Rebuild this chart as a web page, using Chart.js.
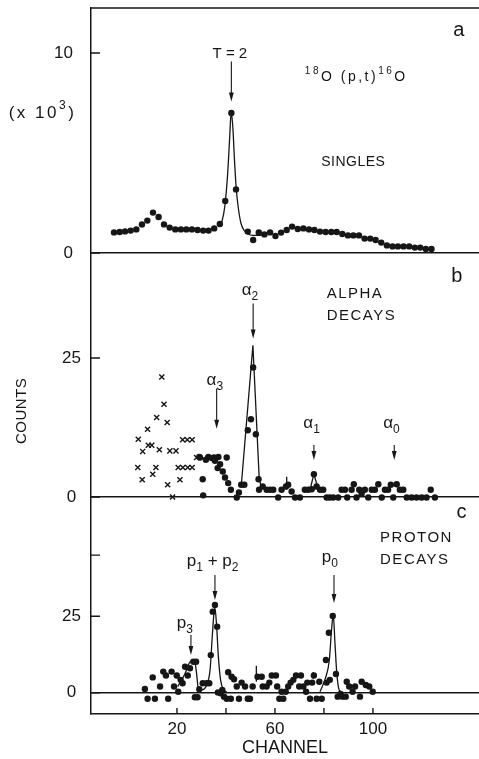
<!DOCTYPE html>
<html>
<head>
<meta charset="utf-8">
<script src="https://cdn.jsdelivr.net/npm/chart.js@4.4.1/dist/chart.umd.min.js"></script>
<style>
  body { margin: 0; background: #fff; }
  .wrap { position: relative; width: 479px; height: 759px; overflow: hidden; }
  canvas { position: absolute; left: 0; }
</style>
</head>
<body>
<div class="wrap">
  <canvas id="panelA" width="479" height="270" style="top:-4px"></canvas>
  <canvas id="panelB" width="479" height="269" style="top:241px"></canvas>
  <canvas id="panelC" width="479" height="274" style="top:485px"></canvas>
</div>
<script>
// ---- data (channel, counts) ----
// a: singles, counts in units of 10^3
const singlesChan = [-5.7, -3.4, -1.2, 1.1, 3.4, 5.7, 7.9, 10.2, 12.5, 14.7, 17.0, 19.3, 21.6, 23.8, 26.1, 28.4, 30.7, 32.9, 35.2, 37.5, 39.7, 42.2, 44.1,
  48.9, 51.1, 53.4, 55.7, 58.0, 60.2, 62.5, 64.8, 67.0, 69.3, 71.6, 73.9, 76.1, 78.4, 80.7, 83.0, 85.2, 87.5, 89.8, 92.0, 94.3, 96.6, 98.9, 101.1,
  103.4, 105.7, 108.0, 110.2, 112.5, 114.8, 117.1, 119.3, 121.6, 123.9];
const singlesK = [1.03, 1.05, 1.08, 1.12, 1.18, 1.43, 1.62, 2.02, 1.80, 1.43, 1.27, 1.18, 1.18, 1.18, 1.18, 1.15, 1.12, 1.12, 1.23, 1.45, 2.60, 7.00, 3.18,
  1.07, 0.65, 1.03, 0.93, 1.03, 0.85, 1.02, 1.15, 1.32, 1.20, 1.23, 1.18, 1.15, 1.07, 1.05, 1.05, 1.05, 0.95, 0.88, 0.88, 0.88, 0.72, 0.72, 0.65,
  0.52, 0.38, 0.33, 0.33, 0.33, 0.33, 0.27, 0.27, 0.20, 0.20];
const singlesFitChan = [36.9, 38.4, 39.6, 40.6, 41.4, 41.9, 42.2, 42.8, 43.5, 44.2, 45.1, 46.1, 47.3, 49.0, 51.0, 53.1, 55.1];
const singlesFitK = [1.3, 1.6, 2.4, 3.8, 5.5, 6.7, 7.0, 6.3, 4.6, 3.2, 2.2, 1.5, 1.15, 0.95, 0.88, 0.88, 0.9];

// b: alpha decays (crosses and dots)
const crossChan = [4.0, 4.2, 5.8, 6.0, 8.0, 8.3, 9.7, 10.1, 11.4, 11.7, 12.8, 13.8, 14.7, 16.0, 16.2, 18.2, 17.1, 19.6, 20.5, 21.2, 22.3, 22.4, 24.2, 24.4, 26.2, 26.2, 28.0];
const crossCounts = [5.3, 10.4, 3.1, 8.2, 12.2, 9.3, 9.3, 4.1, 5.3, 14.3, 8.5, 21.6, 16.7, 13.4, 2.2, 0, 8.3, 8.3, 5.3, 3.1, 10.3, 5.3, 10.3, 5.3, 10.3, 5.3, 7.1];
const alphaChan = [29.1, 29.4, 30.5, 30.7, 31.8, 32.8, 34.2, 35.1, 35.5, 36.6, 36.9, 37.6, 38.7, 39.6, 40.3, 40.9, 42.0, 43.0, 44.4, 45.3,
  46.2, 47.5, 48.9, 50.2, 51.1, 52.2, 53.3, 53.5, 55.0, 56.6, 58.0, 59.3, 61.3, 62.7, 64.5, 65.4, 66.8, 68.2, 70.2, 72.2,
  73.6, 75.0, 75.9, 77.0, 78.4, 79.7, 81.1, 82.4, 83.8, 85.8, 87.2, 88.6, 89.5, 91.3, 92.2, 93.3, 94.4, 95.4, 96.7, 98.1,
  99.5, 100.8, 102.2, 103.6, 104.9, 106.2, 107.3, 108.3, 109.7, 111.0, 112.4, 113.8, 115.8, 117.8, 119.9, 121.9, 123.6, 125.3];
const alphaCounts = [7.2, 7.1, 3.2, 0.3, 6.7, 7.2, 7.0, 7.1, 6.5, 5.2, 7.2, 5.9, 4.6, 3.5, 7.1, 2.5, 1.3, -0.8, -0.1, 0.8,
  2.2, 2.2, 12.0, 14.0, 23.3, 11.3, 3.2, 1.3, 1.9, 1.3, 1.3, 1.3, -0.1, 1.3, 1.9, 2.2, 1.0, -0.1, -0.1, 1.3,
  1.3, 1.4, 4.1, 1.9, 1.3, 1.3, -0.1, -0.1, -0.1, -0.1, 1.3, 1.3, -0.1, 1.3, 2.3, -0.1, 1.3, 0.6, 1.3, -0.1,
  1.3, 1.3, 2.3, -0.1, 1.3, 1.3, 2.2, -0.1, 2.3, 1.3, 1.3, -0.1, -0.1, -0.1, -0.1, -0.1, 1.3, -0.1];
const alpha2FitChan = [46.3, 51.0, 53.6, 54.7];
const alpha2FitCounts = [2.3, 27.3, 3.1, 1.5];
const alpha1FitChan = [74.3, 75.9, 77.7];
const alpha1FitCounts = [1.3, 4.1, 1.4];
const alphaMarkChan = [64.8, 64.8];
const alphaMarkCounts = [1.3, 3.65];

// c: proton decays
const protonChan = [6.9, 8.0, 10.1, 11.0, 13.1, 14.4, 15.5, 16.4, 17.8, 18.8, 19.9, 20.5, 21.5, 22.3, 23.3, 24.4, 25.3, 26.7, 27.8, 27.3,
  28.4, 29.1, 30.5, 32.1, 33.2, 33.8, 34.6, 35.5, 36.4, 36.7, 37.8, 38.5, 39.2, 40.3, 42.0, 40.9, 42.3, 43.3, 44.4, 45.3,
  46.4, 47.8, 48.9, 49.8, 50.9, 52.9, 54.6, 55.0, 56.6, 57.7, 58.7, 60.4, 60.9, 61.8, 62.7, 63.4, 64.4, 65.4, 66.4, 67.5,
  68.6, 69.9, 70.6, 71.6, 72.7, 73.2, 74.3, 75.2, 75.9, 77.0, 78.1, 79.1, 80.8, 81.1, 82.4, 82.0, 83.6, 84.9, 85.6,
  86.8, 87.6, 88.9, 89.3, 90.3, 91.7, 92.7, 94.7, 95.4, 97.1, 98.5, 99.9];
const protonCounts = [1.2, -2.0, 5.0, -2.0, 2.0, 6.9, 5.6, -2.0, 6.9, 2.0, 5.6, 0.3, 4.2, 3.1, 8.5, 5.6, 8.0, 10.1, 10.1, -1.5,
  -1.5, 1.1, 3.1, 3.1, 3.1, 12.3, 26.5, 28.7, 21.6, 0.1, -0.2, 0.9, -1.3, -2.0, -2.0, 6.7, 5.2, 4.4, 2.0, -2.0,
  3.3, 2.0, -2.0, -2.0, 2.0, 5.2, 5.2, 2.0, 2.0, 3.3, 5.6, 5.6, 2.0, -2.0, 0.3, -2.0, 0.3, 2.0, 3.3, 4.2,
  5.6, 2.0, 5.6, 2.0, 0.3, 3.3, -2.0, 3.3, 5.6, -2.0, 3.6, -2.0, 10.7, 3.3, 4.2, 19.6, 25.1, 6.1, -1.3,
  -0.4, -1.3, -1.3, 3.6, 2.0, 0.3, 2.0, -1.3, 3.6, 2.5, 2.0, 0.3];
const p12FitChan = [20.3, 23.3, 25.3, 27.1, 28.0, 28.7, 30.1, 32.1, 33.5, 34.4, 35.1, 35.5, 36.2, 36.9, 37.8, 38.9, 40.3];
const p12FitCounts = [2.0, 6.3, 10.1, 10.7, 6.3, 1.4, 0.9, 2.5, 7.4, 18.3, 26.0, 27.7, 21.6, 11.8, 4.2, 1.1, 0.3];
const p0FitChan = [78.4, 80.8, 82.2, 83.1, 83.8, 84.5, 85.2, 86.2, 87.2];
const p0FitCounts = [0.3, 5.2, 10.7, 20.5, 25.4, 16.2, 6.9, 0.9, 0.3];
const protonMarkChan = [52.4, 52.4, null, 75.6, 75.6];
const protonMarkCounts = [3.6, 8.8, null, 4.6, 6.8];

// axis ticks
const singlesTicks = [0, 10];
const singlesTickLabels = ['0', '10'];
const alphaTicks = [0, 25];
const alphaTickLabels = ['0', '25'];
const protonTicks = [0, 25, 45];
const protonTickLabels = ['0', '25', ''];
const chanTicks = [20, 40, 60, 80, 100];
const chanTickLabels = ['20', '', '60', '', '100'];

// ---- drawing ----
const INK = '#161616';
const FONT = "'Liberation Sans', Arial, sans-serif";
const CH_MIN = -15.1, CH_MAX = 143.3;

const pairs = (xs, ys) => xs.map((x, i) => (x === null ? { x: null, y: null } : { x, y: ys[i] }));

function drawRich(ctx, t, px, py) {
  const size = t.size || 15;
  const fontFor = k => (k === 'n' ? size : Math.round(size * 0.7)) + 'px ' + FONT;
  ctx.save();
  ctx.translate(px, py);
  if (t.rotate) ctx.rotate(t.rotate);
  ctx.letterSpacing = (t.spacing || 0) + 'px';
  ctx.textBaseline = 'middle';
  ctx.textAlign = 'left';
  const widths = t.parts.map(([s, k]) => { ctx.font = fontFor(k); return ctx.measureText(s).width; });
  const total = widths.reduce((a, b) => a + b, 0);
  let cx = t.align === 'center' ? -total / 2 : 0;
  t.parts.forEach(([s, k], i) => {
    ctx.font = fontFor(k);
    const dy = k === 'sup' ? -size * 0.42 : k === 'sub' ? size * 0.4 : 0;
    ctx.fillText(s, cx, dy);
    cx += widths[i];
  });
  ctx.restore();
}

const panelDecor = {
  id: 'panelDecor',
  afterDraw(chart, args, opts) {
    const { ctx, chartArea: area, scales: { x, y } } = chart;
    ctx.save();
    ctx.strokeStyle = INK;
    ctx.fillStyle = INK;
    ctx.lineWidth = 1.4;
    ctx.beginPath();
    if (opts.frameTop) { ctx.moveTo(area.left, area.top); ctx.lineTo(area.right, area.top); }
    (opts.yTicks || []).forEach(v => {
      const py = y.getPixelForValue(v);
      ctx.moveTo(area.left, py); ctx.lineTo(area.left + 9, py);
    });
    (opts.xTicks || []).forEach(v => {
      const px = x.getPixelForValue(v);
      ctx.moveTo(px, area.bottom); ctx.lineTo(px, area.bottom - 6);
    });
    ctx.stroke();
    // arrows pointing at the peaks
    ctx.lineWidth = 1.1;
    (opts.arrows || []).forEach(([cx, from, to]) => {
      const px = x.getPixelForValue(cx), y0 = y.getPixelForValue(from), y1 = y.getPixelForValue(to);
      ctx.beginPath(); ctx.moveTo(px, y0); ctx.lineTo(px, y1 - 6); ctx.stroke();
      ctx.beginPath(); ctx.moveTo(px, y1); ctx.lineTo(px - 2.4, y1 - 9); ctx.lineTo(px + 2.4, y1 - 9); ctx.closePath(); ctx.fill();
    });
    (opts.texts || []).forEach(t => drawRich(ctx, t, x.getPixelForValue(t.x), y.getPixelForValue(t.y)));
    ctx.restore();
  }
};

// label gap comes from an invisible tick mark so the scale does not pad the chart area
function yAxis(min, max, ticks, labels, align, gap) {
  return {
    type: 'linear', min, max,
    afterFit: s => { s.width = 91; },
    afterBuildTicks: s => { s.ticks = ticks.map(v => ({ value: v })); },
    ticks: { padding: 0, crossAlign: align, color: INK, font: { family: FONT, size: 17 }, callback: (v, i) => labels[i] },
    grid: {
      drawTicks: true, tickLength: gap, tickColor: 'rgba(0,0,0,0)', lineWidth: 1.4,
      color: c => (c.tick && c.tick.value === 0 ? INK : 'rgba(0,0,0,0)'),
    },
    border: { display: true, color: INK, width: 1.5 },
  };
}

const hiddenX = { type: 'linear', min: CH_MIN, max: CH_MAX, display: false };

const dots = (xs, ys) => ({
  data: pairs(xs, ys), showLine: false, clip: false,
  pointRadius: 3.2, pointHoverRadius: 3.2, pointBackgroundColor: INK, pointBorderWidth: 0,
});
const crosses = (xs, ys) => ({
  data: pairs(xs, ys), showLine: false, clip: false,
  pointStyle: 'crossRot', pointRadius: 3.6, pointBorderColor: INK, pointBorderWidth: 1.4,
});
const curve = (xs, ys, smooth) => ({
  data: pairs(xs, ys), showLine: true, clip: false, spanGaps: false,
  pointRadius: 0, borderColor: INK, borderWidth: 1.3,
  cubicInterpolationMode: smooth ? 'monotone' : 'default', tension: 0,
});

function makePanel(id, padding, xScale, yScale, datasets, decor) {
  return new Chart(document.getElementById(id), {
    type: 'scatter',
    data: { datasets },
    options: {
      responsive: false, animation: false, devicePixelRatio: 1,
      layout: { padding, autoPadding: false },
      scales: { x: xScale, y: yScale },
      plugins: { legend: { display: false }, tooltip: { enabled: false }, panelDecor: decor },
    },
    plugins: [panelDecor],
  });
}

// panel a
makePanel('panelA', { top: 12, bottom: 13, left: 0, right: 0 }, hiddenX,
  yAxis(0, 12.25, singlesTicks, singlesTickLabels, 'near', 18),
  [dots(singlesChan, singlesK), curve(singlesFitChan, singlesFitK, true)],
  {
    frameTop: true,
    yTicks: singlesTicks,
    arrows: [[42.2, 9.57, 7.57]],
    texts: [
      { x: 41.6, y: 9.95, size: 15, align: 'center', parts: [['T = 2', 'n']] },
      { x: 72.2, y: 8.8, size: 14, spacing: 2.5, parts: [['18', 'sup'], ['O (p,t)', 'n'], ['16', 'sup'], ['O', 'n']] },
      { x: 92.0, y: 4.55, size: 14, align: 'center', spacing: 0.5, parts: [['SINGLES', 'n']] },
      { x: 135.1, y: 11.15, size: 20, align: 'center', parts: [['a', 'n']] },
      { x: -34.9, y: 7.0, size: 17, align: 'center', spacing: 2.5, parts: [['(x 10', 'n'], ['3', 'sup'], [')', 'n']] },
    ],
  });

// panel b
makePanel('panelB', { top: 12, bottom: 13, left: 0, right: 0 }, hiddenX,
  yAxis(0, 43.9, alphaTicks, alphaTickLabels, 'center', 10),
  [crosses(crossChan, crossCounts), dots(alphaChan, alphaCounts),
   curve(alpha2FitChan, alpha2FitCounts, false), curve(alpha1FitChan, alpha1FitCounts, false),
   curve(alphaMarkChan, alphaMarkCounts, false)],
  {
    yTicks: alphaTicks,
    arrows: [[51.1, 34.8, 28.5], [36.2, 19.5, 12.3], [75.9, 9.35, 6.65], [108.7, 9.35, 6.65]],
    texts: [
      { x: 81.1, y: 36.5, size: 15, spacing: 1.5, parts: [['ALPHA', 'n']] },
      { x: 81.1, y: 32.6, size: 15, spacing: 1.5, parts: [['DECAYS', 'n']] },
      { x: 134.2, y: 39.7, size: 20, align: 'center', parts: [['b', 'n']] },
      { x: 46.4, y: 37.2, size: 17, parts: [['α', 'n'], ['2', 'sub']] },
      { x: 32.1, y: 21.0, size: 17, parts: [['α', 'n'], ['3', 'sub']] },
      { x: 71.6, y: 13.3, size: 17, parts: [['α', 'n'], ['1', 'sub']] },
      { x: 104.2, y: 13.3, size: 17, parts: [['α', 'n'], ['0', 'sub']] },
      { x: -43.3, y: 15.5, size: 15, align: 'center', spacing: 0.5, rotate: -Math.PI / 2, parts: [['COUNTS', 'n']] },
    ],
  });

// panel c
makePanel('panelC', { top: 12, bottom: 0, left: 0, right: 0 },
  {
    type: 'linear', min: CH_MIN, max: CH_MAX,
    afterFit: s => { s.height = 45; },
    afterBuildTicks: s => { s.ticks = chanTicks.map(v => ({ value: v })); },
    ticks: { autoSkip: false, maxRotation: 0, padding: 5, color: INK, font: { family: FONT, size: 17 }, callback: (v, i) => chanTickLabels[i] },
    grid: { display: false, drawTicks: false },
    border: { display: true, color: INK, width: 1.5 },
    title: { display: true, text: 'CHANNEL', color: INK, font: { family: FONT, size: 18 }, padding: { top: 0, bottom: 0 } },
  },
  yAxis(-6.97, 64.0, protonTicks, protonTickLabels, 'center', 10),
  [dots(protonChan, protonCounts), curve(p12FitChan, p12FitCounts, true), curve(p0FitChan, p0FitCounts, true),
   curve(protonMarkChan, protonMarkCounts, false)],
  {
    yTicks: protonTicks,
    xTicks: chanTicks,
    arrows: [[35.5, 38.5, 30.3], [84.1, 38.5, 29.3], [25.7, 18.9, 12.3]],
    texts: [
      { x: 102.9, y: 50.6, size: 15, spacing: 1.5, parts: [['PROTON', 'n']] },
      { x: 102.9, y: 43.4, size: 15, spacing: 1.5, parts: [['DECAYS', 'n']] },
      { x: 136.2, y: 58.8, size: 20, align: 'center', parts: [['c', 'n']] },
      { x: 24.0, y: 43.1, size: 17, parts: [['p', 'n'], ['1', 'sub'], [' + ', 'n'], ['p', 'n'], ['2', 'sub']] },
      { x: 79.1, y: 44.4, size: 17, parts: [['p', 'n'], ['0', 'sub']] },
      { x: 19.9, y: 22.8, size: 17, parts: [['p', 'n'], ['3', 'sub']] },
    ],
  });
</script>
</body>
</html>
